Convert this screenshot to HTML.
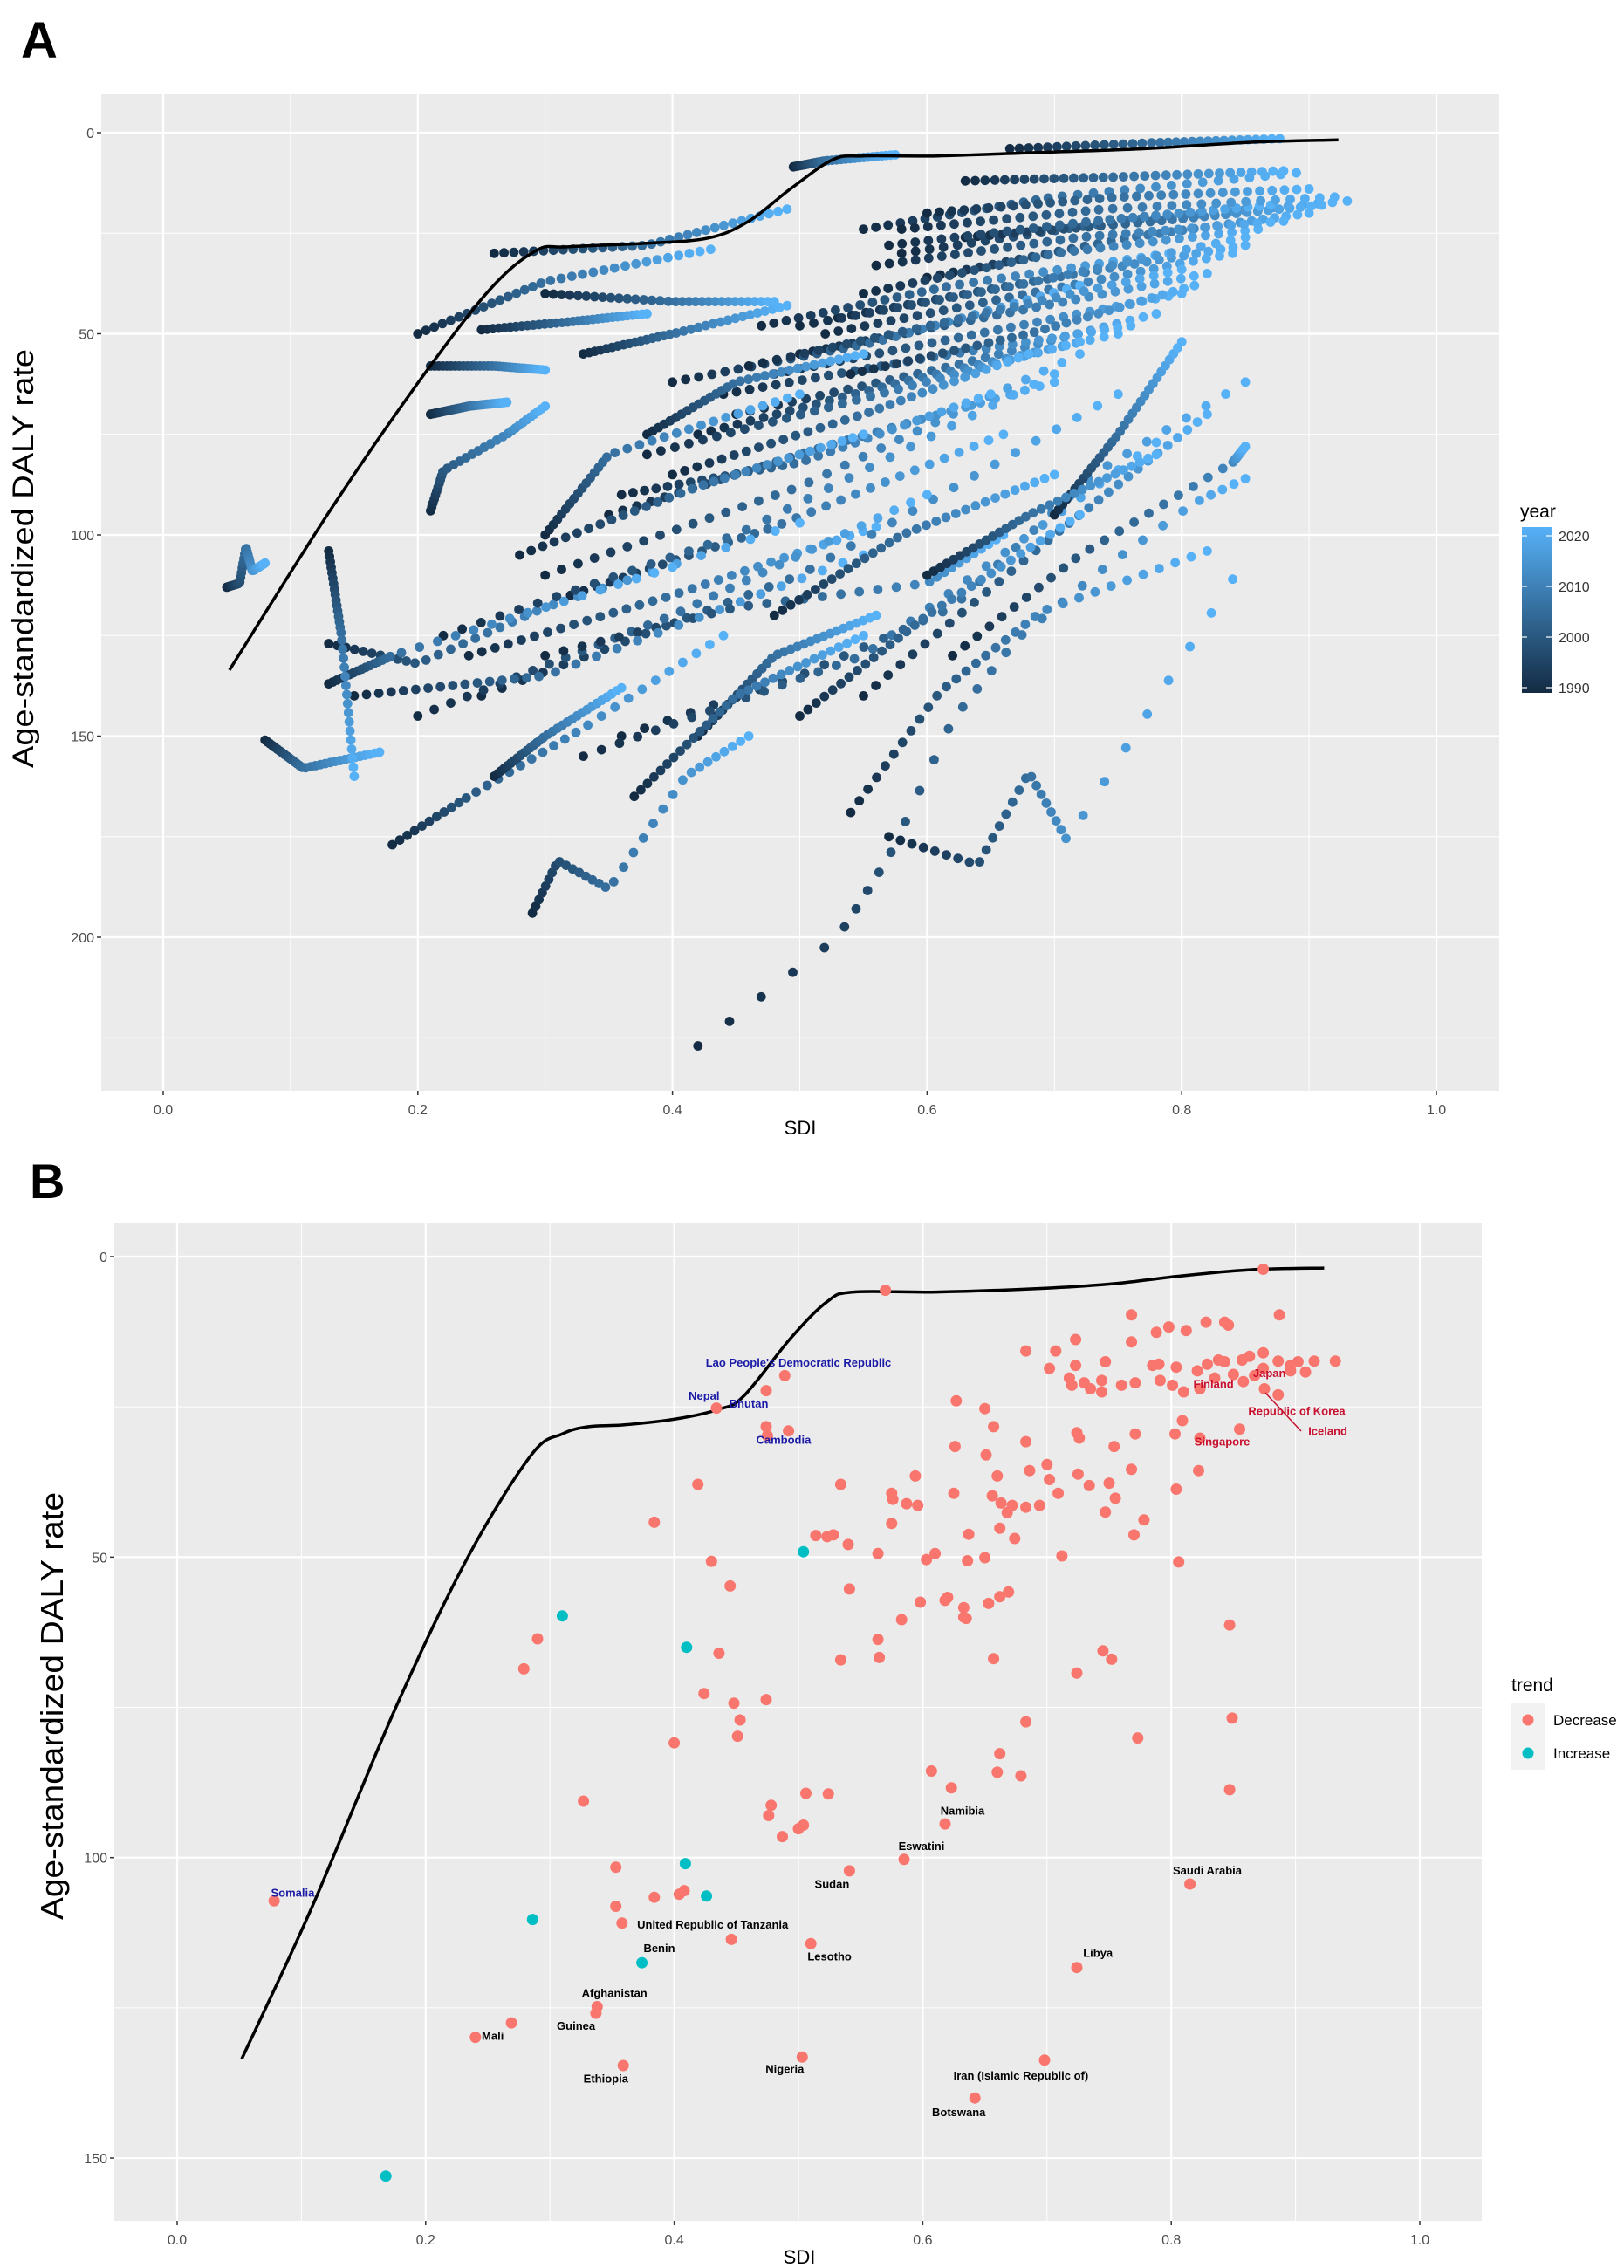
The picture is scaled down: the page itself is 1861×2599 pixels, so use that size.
<!DOCTYPE html>
<html><head><meta charset="utf-8"><title>SDI vs DALY</title>
<style>html,body{margin:0;padding:0;background:#fff}svg{display:block}text{font-family:"Liberation Sans",sans-serif}</style>
</head><body>
<svg id="fig" width="1861" height="2599" viewBox="0 0 1861 2599" xmlns="http://www.w3.org/2000/svg"></svg>
<script>
// ---------- Panel A data ----------
const yearsA = [1990,1991,1992,1993,1994,1995,1996,1997,1998,1999,2000,2001,2002,2003,2004,2005,2006,2007,2008,2009,2010,2011,2012,2013,2014,2015,2016,2017,2018,2019,2020,2021];
const xTicks = [0,0.2,0.4,0.6,0.8,1.0];
const xTickLabels = ["0.0","0.2","0.4","0.6","0.8","1.0"];
const yTicksA = [0,50,100,150,200];
const yTicksB = [0,50,100,150];
const legendYears = [1990,2000,2010,2020];
const frontierA = [[.052,133.6],[.132,93.5],[.199,62.7],[.256,39.2],[.293,29.3],[.317,28.4],[.379,27.5],[.428,26.2],[.46,22],[.493,13.9],[.526,6.7],[.55,5.8],[.608,5.8],[.689,4.9],[.771,4],[.853,2.4],[.923,1.8]];
const trajectories = [
[[.665,4],[.78,2.5],[.877,1.5]],
[[.495,8.5],[.52,7],[.575,5.5]],
[[.55,24],[.70,16],[.89,10]],
[[.63,12],[.75,11],[.88,9.5]],
[[.58,30],[.75,22],[.93,17]],
[[.60,36],[.76,26],[.90,20]],
[[.55,40],[.70,30],[.86,24]],
[[.53,46],[.70,36],[.85,28]],
[[.50,55],[.66,45],[.82,35]],
[[.48,60],[.64,50],[.80,40]],
[[.45,70],[.62,58],[.78,45]],
[[.52,50],[.68,40],[.84,30]],
[[.56,33],[.72,26],[.88,22]],
[[.63,26],[.78,22],[.91,18]],
[[.44,65],[.60,56],[.76,48]],
[[.60,20],[.75,16],[.90,14]],
[[.57,28],[.73,22],[.87,18]],
[[.47,48],[.62,38],[.79,30]],
[[.40,62],[.56,52],[.72,38]],
[[.54,60],[.68,50],[.81,38]],
[[.46,58],[.63,46],[.80,34]],
[[.50,48],[.67,38],[.85,26]],
[[.42,75],[.58,62],[.75,50]],
[[.38,80],[.55,66],[.72,52]],
[[.35,95],[.52,78],[.70,62]],
[[.32,115],[.48,98],[.66,75]],
[[.24,130],[.40,115],[.56,98]],
[[.58,24],[.74,19],[.92,16]],
[[.26,30],[.38,28],[.49,19]],
[[.20,50],[.30,37],[.43,29]],
[[.25,49],[.32,47],[.38,45]],
[[.21,58],[.26,58],[.30,59]],
[[.21,70],[.24,68],[.27,67]],
[[.30,40],[.40,42],[.48,42]],
[[.33,55],[.40,50],[.49,43]],
[[.38,75],[.45,62],[.55,55]],
[[.05,113],[.06,112],[.065,103],[.07,109],[.08,107]],
[[.21,94],[.22,84],[.27,75],[.30,68]],
[[.13,127],[.20,132],[.30,118],[.50,97]],
[[.08,151],[.11,158],[.17,154]],
[[.18,177],[.24,165],[.33,148],[.44,125]],
[[.42,227],[.53,200],[.57,180],[.62,146],[.67,126],[.74,108],[.81,92],[.85,86]],
[[.54,169],[.61,139],[.69,119],[.82,104]],
[[.57,175],[.64,182],[.68,159],[.71,176],[.84,111]],
[[.62,130],[.72,105],[.84,82],[.85,78]],
[[.29,194],[.31,181],[.35,188],[.41,160],[.46,150]],
[[.36,150],[.50,135],[.62,118],[.73,85],[.85,62]],
[[.55,140],[.70,100],[.82,70]],
[[.33,155],[.55,130],[.78,77]],
[[.70,95],[.75,75],[.80,52]],
[[.25,140],[.50,110],[.75,65]],
[[.22,125],[.45,100],[.70,60]],
[[.30,110],[.50,88],[.72,55]],
[[.20,145],[.40,120],[.60,90]],
[[.30,130],[.45,118],[.60,112],[.66,100]],
[[.36,90],[.50,82],[.65,65]],
[[.28,105],[.42,88],[.55,75]],
[[.13,137],[.18,130],[.40,108]],
[[.15,140],[.30,135],[.55,105]],
[[.13,104],[.14,125],[.15,160]],
[[.30,100],[.35,80],[.50,65]],
[[.40,85],[.55,70],[.68,55]],
[[.42,150],[.48,130],[.56,120]],
[[.37,165],[.45,140],[.55,125]],
[[.26,160],[.30,150],[.36,138]],
[[.48,120],[.58,100],[.70,85]],
[[.50,145],[.60,120],[.72,95]],
[[.60,110],[.68,95],[.78,80]]
];
// ---------- Panel B data ----------
const frontierB = [[.052,133.5],[.109,108],[.176,75],[.234,50],[.285,33],[.31,29.5],[.331,28.3],[.36,28],[.402,27],[.436,25.4],[.456,23.2],[.494,13.5],[.523,7.5],[.544,5.9],[.611,5.9],[.695,5.3],[.754,4.5],[.804,3.3],[.862,2.2],[.923,1.9]];
const decSdi = [.570,.874,.887,.768,.798,.788,.828,.843,.846,.812,.723,.768,.683,.707,.747,.785,.790,.829,.838,.843,.857,.863,.874,.886,.896,.902,.915,.932,.702,.723,.804,.821,.718,.720,.730,.735,.744,.744,.760,.771,.791,.801,.810,.823,.835,.850,.858,.867,.875,.886,.874,.896,.908,.627,.650,.657,.724,.726,.754,.771,.803,.809,.823,.855,.626,.651,.660,.683,.686,.700,.702,.709,.725,.734,.750,.755,.768,.747,.778,.770,.804,.822,.594,.575,.576,.587,.596,.625,.656,.663,.668,.672,.694,.683,.534,.419,.662,.637,.674,.575,.514,.523,.528,.540,.564,.610,.603,.636,.650,.712,.806,.430,.445,.541,.598,.618,.620,.633,.633,.635,.653,.662,.669,.583,.384,.564,.565,.534,.657,.745,.752,.724,.847,.290,.279,.436,.424,.448,.453,.451,.474,.400,.683,.773,.849,.327,.478,.476,.506,.524,.607,.623,.660,.662,.679,.847,.504,.500,.487,.618,.585,.353,.541,.353,.384,.404,.408,.358,.446,.510,.815,.724,.338,.337,.269,.240,.359,.503,.698,.642,.078,.434,.474,.489,.474,.475,.492];
const decRate = [5.6,2.1,9.7,9.7,11.7,12.6,10.9,10.9,11.4,12.3,13.8,14.2,15.7,15.7,17.5,18.1,17.9,17.9,17.2,17.5,17.2,16.6,16.0,17.4,18.1,17.5,17.4,17.4,18.6,18.1,18.4,19.0,20.2,21.4,21.0,22.0,20.6,22.5,21.4,21.0,20.6,21.4,22.5,22.0,20.2,19.6,20.8,19.8,22.0,23.0,18.6,19.0,19.2,24.0,25.3,28.3,29.3,30.2,31.6,29.5,29.5,27.3,30.2,28.7,31.6,33.0,36.5,30.8,35.6,34.6,37.1,39.4,36.2,38.1,37.7,40.2,35.4,42.5,43.8,46.3,38.7,35.6,36.5,39.4,40.4,41.1,41.4,39.4,39.8,41.0,42.6,41.4,41.4,41.7,37.9,37.9,45.2,46.2,46.9,44.4,46.4,46.6,46.3,47.9,49.4,49.4,50.4,50.6,50.1,49.8,50.8,50.7,54.8,55.3,57.5,57.2,56.7,58.4,60.0,60.2,57.7,56.6,55.8,60.4,44.2,63.7,66.7,67.1,66.9,65.6,67.0,69.3,61.3,63.6,68.6,66.0,72.7,74.3,77.1,79.8,73.7,80.9,77.4,80.1,76.8,90.6,91.3,93.0,89.3,89.4,85.6,88.4,85.8,82.7,86.4,88.7,94.6,95.2,96.5,94.4,100.3,101.6,102.2,108.1,106.6,106.1,105.5,110.9,113.6,114.3,104.4,118.3,124.8,125.9,127.5,129.9,134.6,133.2,133.7,140.0,107.2,25.2,22.3,19.8,28.3,29.8,29.0];
const incSdi = [.504,.310,.410,.409,.426,.286,.374,.168];
const incRate = [49.1,59.8,65.0,101.0,106.4,110.3,117.5,153.0];
const labelNames = ["Lao People's Democratic Republic","Nepal","Bhutan","Cambodia","Somalia","Finland","Japan","Republic of Korea","Iceland","Singapore","Namibia","Eswatini","Saudi Arabia","Sudan","United Republic of Tanzania","Benin","Lesotho","Libya","Afghanistan","Guinea","Mali","Ethiopia","Nigeria","Iran (Islamic Republic of)","Botswana"];
const labelSdi = [.5,.424,.46,.488,.093,.834,.879,.901,.926,.841,.632,.599,.829,.527,.431,.388,.525,.741,.352,.321,.254,.345,.489,.679,.629];
const labelRate = [17.6,23.1,24.4,30.4,105.8,21.1,19.3,25.6,29.0,30.7,92.1,98.0,102.1,104.3,111.1,115.0,116.4,115.8,122.5,127.9,129.6,136.7,135.1,136.2,142.3];
const labelColor = ["#1a1aa6","#1a1aa6","#1a1aa6","#1a1aa6","#1a1aa6","#c8102e","#c8102e","#c8102e","#c8102e","#c8102e","#000","#000","#000","#000","#000","#000","#000","#000","#000","#000","#000","#000","#000","#000","#000"];

const NS="http://www.w3.org/2000/svg";
const svg=document.getElementById('fig');
function mk(tag,attrs,parent){const e=document.createElementNS(NS,tag);for(const k in attrs)e.setAttribute(k,attrs[k]);(parent||svg).appendChild(e);return e;}

const A={l:116,r:1718,t:108,b:1250,x:s=>187+s*1459,y:v=>152+v*4.61};
const B={l:131,r:1698,t:1402,b:2545,x:s=>203+s*1424,y:v=>1440+v*6.887};

function panel(P,yt,name){
  const g=mk('g',{});
  
  
  const bg=mk('rect',{x:P.l,y:P.t,width:P.r-P.l,height:P.b-P.t,fill:'#EBEBEB'},g);
  
  
  for(let i=0;i<xTicks.length-1;i++){const xm=P.x((xTicks[i]+xTicks[i+1])/2);mk('line',{x1:xm,x2:xm,y1:P.t,y2:P.b,stroke:'#fff','stroke-width':1},g);}
  for(let i=0;i<yt.length;i++){const ym=P.y(yt[i]+25);if(ym<P.b)mk('line',{x1:P.l,x2:P.r,y1:ym,y2:ym,stroke:'#fff','stroke-width':1},g);}
  const ym0=P.y(-25);if(ym0>P.t)mk('line',{x1:P.l,x2:P.r,y1:ym0,y2:ym0,stroke:'#fff','stroke-width':1},g);
  xTicks.forEach((t,i)=>{const x=P.x(t);mk('line',{x1:x,x2:x,y1:P.t,y2:P.b,stroke:'#fff','stroke-width':2.2},g);
    mk('line',{x1:x,x2:x,y1:P.b,y2:P.b+5,stroke:'#333','stroke-width':1.5},g);
    const tx=mk('text',{x:x,y:P.b+27,'text-anchor':'middle','font-size':16,fill:'#4D4D4D'},g);tx.textContent=xTickLabels[i];
    
    });
  yt.forEach(t=>{const y=P.y(t);mk('line',{x1:P.l,x2:P.r,y1:y,y2:y,stroke:'#fff','stroke-width':2.2},g);
    mk('line',{x1:P.l-5,x2:P.l,y1:y,y2:y,stroke:'#333','stroke-width':1.5},g);
    const tx=mk('text',{x:P.l-8,y:y+6,'text-anchor':'end','font-size':16,fill:'#4D4D4D'},g);tx.textContent=String(t);
    
    });
  return g;
}
function line(P,pts,name){
  const p=pts.map(q=>[P.x(q[0]),P.y(q[1])]);
  let d='M'+p[0][0].toFixed(1)+','+p[0][1].toFixed(1);
  for(let i=0;i<p.length-1;i++){const p0=p[Math.max(0,i-1)],p1=p[i],p2=p[i+1],p3=p[Math.min(p.length-1,i+2)];
    const c1=[p1[0]+(p2[0]-p0[0])/6,p1[1]+(p2[1]-p0[1])/6],c2=[p2[0]-(p3[0]-p1[0])/6,p2[1]-(p3[1]-p1[1])/6];
    d+=' C'+c1.map(v=>v.toFixed(1)).join(',')+' '+c2.map(v=>v.toFixed(1)).join(',')+' '+p2[0].toFixed(1)+','+p2[1].toFixed(1);}
  const e=mk('path',{d:d,fill:'none',stroke:'#000','stroke-width':3.5,'stroke-linejoin':'round'});
  
  
}
function lerp(a,b,t){return a+(b-a)*t;}
function yearColor(yr){let t=(yr-1990)/30;t=Math.max(0,Math.min(1,t));
  const c0=[0x13,0x2B,0x43],c1=[0x56,0xB1,0xF7];return 'rgb('+c0.map((c,i)=>Math.round(lerp(c,c1[i],t))).join(',')+')';}

// ---------- Panel A ----------
panel(A,yTicksA,'a');
const gA=mk('g',{});


trajectories.forEach(tr=>{
  const segs=tr.length-1;
  yearsA.forEach((yr,k)=>{
    const u=k/(yearsA.length-1)*segs;let si=Math.min(Math.floor(u),segs-1);const f=u-si;
    const s=lerp(tr[si][0],tr[si+1][0],f),r=lerp(tr[si][1],tr[si+1][1],f);
    const c=mk('circle',{cx:A.x(s).toFixed(1),cy:A.y(r).toFixed(1),r:5.4,fill:yearColor(yr)},gA);
    
    
  });
});
line(A,frontierA,'a-frontier-line');
let t;
t=mk('text',{x:24,y:66,'font-size':58,'font-weight':'bold',fill:'#000'});t.textContent='A';


t=mk('text',{x:917,y:1300,'text-anchor':'middle','font-size':22,fill:'#000'});t.textContent='SDI';


t=mk('text',{x:0,y:0,'text-anchor':'middle','font-size':34,fill:'#000',transform:'translate(38,640) rotate(-90)',textLength:480,lengthAdjust:'spacingAndGlyphs'});t.textContent='Age-standardized DALY rate';


const defs=mk('defs',{});
const gr=mk('linearGradient',{id:'yg',x1:0,y1:1,x2:0,y2:0},defs);
mk('stop',{offset:'0','stop-color':'#132B43'},gr);mk('stop',{offset:'1','stop-color':'#56B1F7'},gr);
t=mk('text',{x:1742,y:593,'font-size':21,fill:'#000'});t.textContent='year';


const cb=mk('rect',{x:1744,y:604,width:34,height:190,fill:'url(#yg)'});


const cbY=yr=>614+(2020-yr)/30*174;
legendYears.forEach(yr=>{const y=cbY(yr);
  mk('line',{x1:1744,x2:1750,y1:y,y2:y,stroke:'#fff','stroke-width':1.2});mk('line',{x1:1772,x2:1778,y1:y,y2:y,stroke:'#fff','stroke-width':1.2});
  const l=mk('text',{x:1786,y:y+6,'font-size':16,fill:'#333'});l.textContent=String(yr);
  
  });

// ---------- Panel B ----------
panel(B,yTicksB,'b');
line(B,frontierB,'b-frontier-line');
const gB=mk('g',{});


decSdi.forEach((s,i)=>{const c=mk('circle',{cx:B.x(s).toFixed(1),cy:B.y(decRate[i]).toFixed(1),r:6.5,fill:'#F8766D'},gB);
  
  });
incSdi.forEach((s,i)=>{const c=mk('circle',{cx:B.x(s).toFixed(1),cy:B.y(incRate[i]).toFixed(1),r:6.5,fill:'#00BFC4'},gB);
  
  });
const lead=mk('line',{x1:1450,y1:1596,x2:1491,y2:1640,stroke:'#c8102e','stroke-width':1.5});


labelNames.forEach((n,i)=>{const l=mk('text',{x:B.x(labelSdi[i]).toFixed(1),y:(B.y(labelRate[i])+5).toFixed(1),'text-anchor':'middle','font-size':13,'font-weight':'bold',fill:labelColor[i]});
  l.textContent=n;
  
  });
t=mk('text',{x:34,y:1373,'font-size':56,'font-weight':'bold',fill:'#000'});t.textContent='B';


t=mk('text',{x:916,y:2594,'text-anchor':'middle','font-size':22,fill:'#000'});t.textContent='SDI';


t=mk('text',{x:0,y:0,'text-anchor':'middle','font-size':36,fill:'#000',transform:'translate(72,1955) rotate(-90)',textLength:490,lengthAdjust:'spacingAndGlyphs'});t.textContent='Age-standardized DALY rate';


t=mk('text',{x:1732,y:1938,'font-size':21,fill:'#000'});t.textContent='trend';


[['Decrease','#F8766D',1971],['Increase','#00BFC4',2009]].forEach(k=>{
  mk('rect',{x:1732,y:k[2]-19,width:38,height:38,fill:'#F2F2F2'});
  const c=mk('circle',{cx:1751,cy:k[2],r:6.5,fill:k[1]});
  
  
  const l=mk('text',{x:1780,y:k[2]+6,'font-size':17,fill:'#000'});l.textContent=k[0];
  
  });
</script>
</body></html>
